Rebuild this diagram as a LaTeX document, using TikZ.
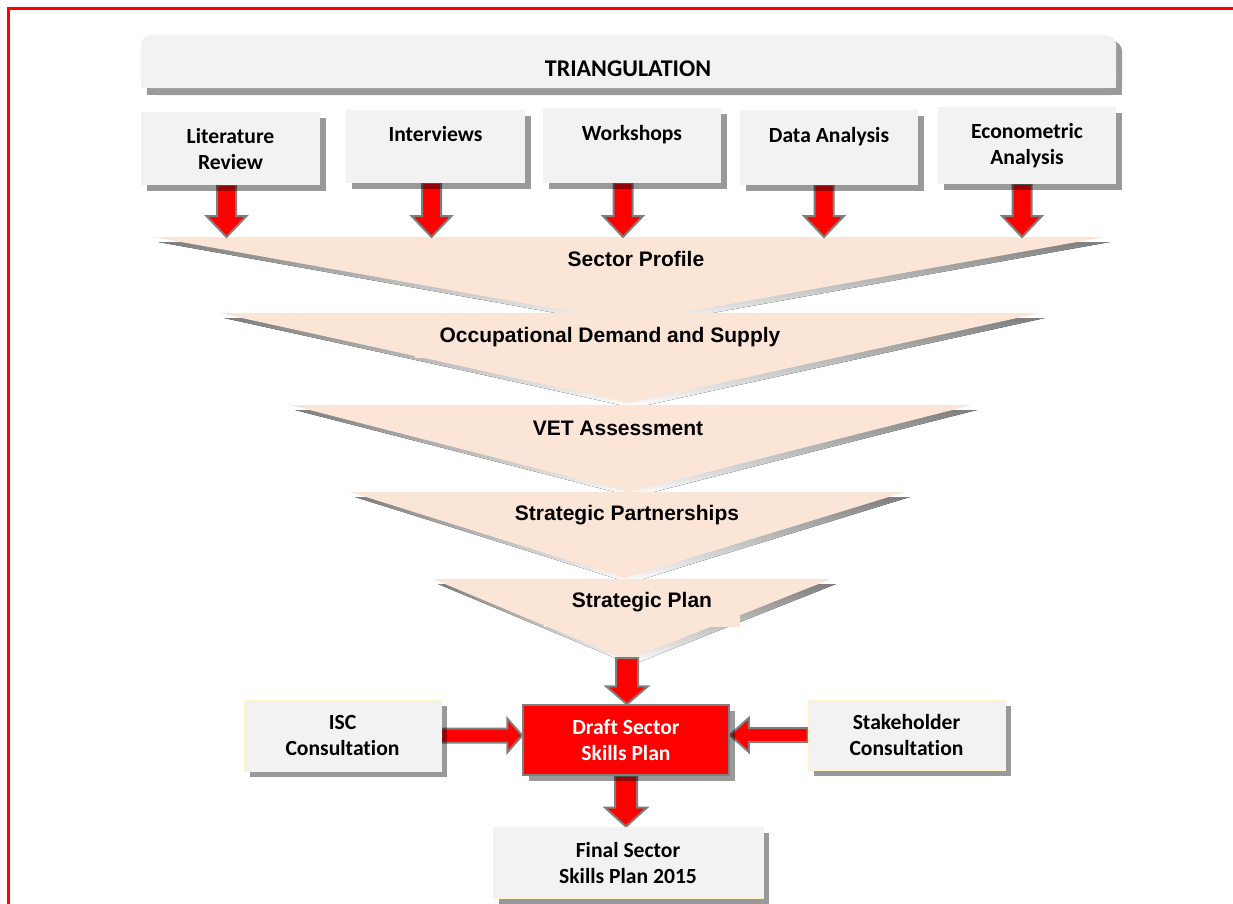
\documentclass[tikz,border=0pt]{standalone}
\usepackage{fontspec}
\setmainfont{Carlito}[Ligatures=NoCommon]
\newfontfamily\arialfont{Liberation Sans}
\usetikzlibrary{shadows,calc}
\pgfdeclarelayer{funnel}
\pgfdeclarelayer{arrows}
\pgfsetlayers{funnel,arrows,main}
\definecolor{boxgray}{HTML}{F2F2F2}
\definecolor{peach}{HTML}{FBE5D6}
\definecolor{shade}{HTML}{9A9A9A}
\definecolor{edgegray}{HTML}{7F7F7F}
\definecolor{cream}{HTML}{FFF2CC}
\tikzset{
  boxtext/.style={font=\bfseries\fontsize{21.6bp}{26bp}\selectfont, align=center, inner sep=0pt},
  boxshadow/.style={drop shadow={shadow xshift=6bp, shadow yshift=-6bp, fill=black, opacity=.4}},
  srcbox/.style={boxtext, fill=boxgray, boxshadow},
  sidebox/.style={boxtext, fill=boxgray, draw=cream, line width=0.8bp, boxshadow},
  keybox/.style={boxtext, text=white, fill=red, draw=edgegray, line width=1.5bp, boxshadow},
  stagetext/.style={font=\arialfont\bfseries\fontsize{21bp}{25bp}\selectfont, inner sep=0pt},
  blkarrow/.style={fill=red, draw=edgegray, line width=2bp, line join=miter},
  bannerpart/.style={inner sep=0pt, outer sep=0pt, minimum width=975bp},
}
% one layer of the funnel: left x, right x, top y, apex x, apex y
\newcommand\funnelpiece[5]{%
  \fill[shade] (#1+5,#3+5) -- (#2+5,#3+5) -- (#4+5,#5+5) -- cycle;
  \fill[peach] (#1,#3) -- (#2,#3) -- (#4,#5) -- cycle;}
% block arrows: start, tip, shaft half width, head half width, head length
\newcommand\downblk[5]{%
  \path[blkarrow] let \p1=(#1), \p2=(#2) in
    (\x1-#3,\y1) -- (\x1-#3,\y2+#5) -- (\x1-#4,\y2+#5) -- (\x1,\y2)
    -- (\x1+#4,\y2+#5) -- (\x1+#3,\y2+#5) -- (\x1+#3,\y1) -- cycle;}
\newcommand\rightblk[5]{%
  \path[blkarrow] let \p1=(#1), \p2=(#2) in
    (\x1,\y1+#3) -- (\x2-#5,\y1+#3) -- (\x2-#5,\y1+#4) -- (\x2,\y1)
    -- (\x2-#5,\y1-#4) -- (\x2-#5,\y1-#3) -- (\x1,\y1-#3) -- cycle;}
\newcommand\leftblk[5]{%
  \path[blkarrow] let \p1=(#1), \p2=(#2) in
    (\x1,\y1+#3) -- (\x2+#5,\y1+#3) -- (\x2+#5,\y1+#4) -- (\x2,\y1)
    -- (\x2+#5,\y1-#4) -- (\x2+#5,\y1-#3) -- (\x1,\y1-#3) -- cycle;}

\begin{document}
\begin{tikzpicture}[x=1bp, y=-1bp]
\useasboundingbox (0,0) rectangle (1233,904);

% page frame
\draw[red, line width=3bp] (8,904) -- (8,8) -- (1233,8);

% triangulation banner: rounded top corners, square bottom corners, solid shadow
\node[bannerpart, fill=shade, rounded corners=10bp, minimum height=54bp] (bansh) at (634.5,68) {};
\node[bannerpart, fill=shade, minimum height=27bp, anchor=south] (banshfoot) at (bansh.south) {};
\node[bannerpart, fill=boxgray, rounded corners=10bp, minimum height=53bp] (banbox) at (628.5,61.5) {};
\node[bannerpart, fill=boxgray, minimum height=27bp, anchor=south] (banfoot) at (banbox.south) {};
\node[boxtext, font=\bfseries\fontsize{24bp}{28bp}\selectfont] (ban) at (628,69) {TRIANGULATION};

% sources
\node[srcbox, minimum width=179bp, minimum height=73bp] (lit)  at (230.5,148.5) {Literature\\Review};
\node[srcbox, minimum width=179bp, minimum height=73bp] (int)  at (435.5,146.5) {Interviews\\\mbox{}};
\node[srcbox, minimum width=178bp, minimum height=75bp] (work) at (632,145.5)   {Workshops\\\mbox{}};
\node[srcbox, minimum width=178bp, minimum height=75bp] (data) at (829,147.5)   {Data Analysis\\\mbox{}};
\node[srcbox, minimum width=178bp, minimum height=77bp] (econ) at (1027,145.5)  {Econometric\\Analysis};

% funnel
\begin{pgfonlayer}{funnel}
  \funnelpiece{153}{1105}{237}{629}{322}
  \funnelpiece{219}{1040}{313}{629}{403}
  \fill[peach] (415,322) rectangle (805,358);
  \funnelpiece{290}{972}{405}{629}{492}
  \funnelpiece{350}{905}{492}{625}{578}
  \funnelpiece{433}{831}{579}{627}{660}
  \fill[peach] (544,585) rectangle (740,627);
\end{pgfonlayer}
\coordinate (t1top) at (629,237);
\coordinate (t5tip) at (627,658);

\node[stagetext] (sp)    at (636,259) {Sector Profile};
\node[stagetext] (ods)   at (610,337) {Occupational Demand and Supply};
\node[stagetext] (vet)   at (618,428) {VET Assessment};
\node[stagetext] (spart) at (627,515) {Strategic Partnerships};
\node[stagetext] (splan) at (642,602) {Strategic Plan};

% plan boxes
\node[sidebox, minimum width=197bp, minimum height=71bp] (isc)   at (342.5,735.5) {ISC\\Consultation};
\node[sidebox, minimum width=197bp, minimum height=70bp] (stake) at (906.5,735)   {Stakeholder\\Consultation};
\node[keybox,  minimum width=206bp, minimum height=70bp] (draft) at (626,740)     {Draft Sector\\Skills Plan};
\node[sidebox, minimum width=270bp, minimum height=71bp] (final) at (628,862.5)   {Final Sector\\Skills Plan 2015};

% flow arrows
\begin{pgfonlayer}{arrows}
  \downblk{[xshift=-4bp]lit.south}{t1top}{9.5bp}{20bp}{21bp}
  \downblk{[xshift=-4bp]int.south}{t1top}{9.5bp}{20bp}{21bp}
  \downblk{[xshift=-9bp]work.south}{t1top}{9.5bp}{20bp}{21bp}
  \downblk{[xshift=-5bp]data.south}{t1top}{9.5bp}{20bp}{21bp}
  \downblk{[xshift=-5bp]econ.south}{t1top}{9.5bp}{20bp}{21bp}
  \downblk{t5tip}{draft.north}{11bp}{21bp}{18bp}
  \downblk{draft.south}{final.north}{11bp}{21bp}{19bp}
  \rightblk{isc.east}{draft.west}{7bp}{17bp}{15bp}
  \leftblk{stake.west}{draft.east}{7bp}{17bp}{19bp}
\end{pgfonlayer}
\end{tikzpicture}
\end{document}
